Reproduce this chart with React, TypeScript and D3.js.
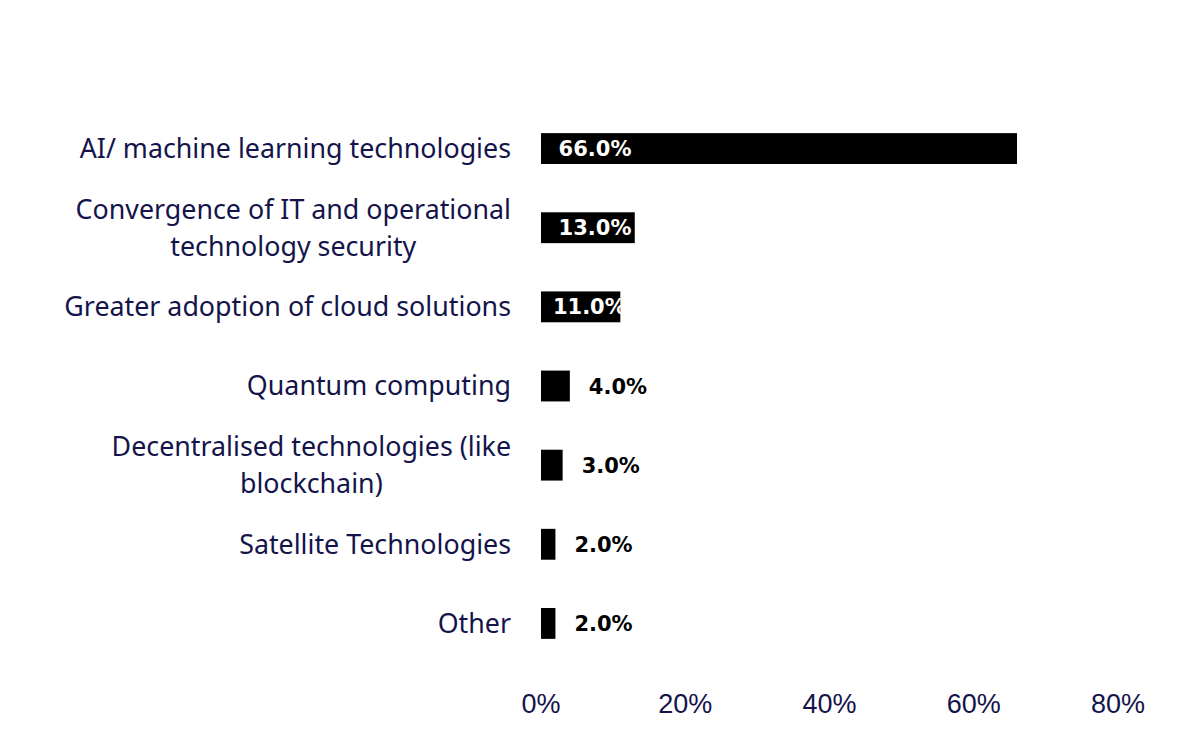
import * as d3 from "d3";

const WIDTH = 1200;
const HEIGHT = 754;

// survey answers, top to bottom
const categories = [
    "AI/ machine learning technologies",
    "Convergence of IT and operational technology security",
    "Greater adoption of cloud solutions",
    "Quantum computing",
    "Decentralised technologies (like blockchain)",
    "Satellite Technologies",
    "Other",
];
const categoryLines = [
    ["AI/ machine learning technologies"],
    ["Convergence of IT and operational", "technology security"],
    ["Greater adoption of cloud solutions"],
    ["Quantum computing"],
    ["Decentralised technologies (like", "blockchain)"],
    ["Satellite Technologies"],
    ["Other"],
];
const shares = [66, 13, 11, 4, 3, 2, 2];
const xTicks = [0, 20, 40, 60, 80];

const navy = "#14144b";
const LABEL_FONT = "'Noto Sans', sans-serif";
const LABEL_SIZE = 26.8;
const VALUE_FONT = "'DejaVu Sans', sans-serif";

let ctx: CanvasRenderingContext2D | null = null;
function textWidth(s: string) {
    if (!ctx) ctx = document.createElement("canvas").getContext("2d");
    if (!ctx) return s.length * LABEL_SIZE * 0.5;
    ctx.font = `${LABEL_SIZE}px 'Noto Sans'`;
    return ctx.measureText(s).width;
}

export default function App() {
    const x = d3.scaleLinear().domain([0, 80]).range([541, 1118]);
    const y = d3.scaleBand<string>().domain(categories).range([109, 663]).paddingInner(0.61).paddingOuter(0.305);
    const fmt = (v: number) => `${v.toFixed(1)}%`;
    const labelRight = 511;

    return (
        <svg width={WIDTH} height={HEIGHT} style={{ position: "absolute", left: 0, top: 0, background: "#fff" }}>
            {categories.map((c, i) => {
                const cy = (y(c) ?? 0) + y.bandwidth() / 2;
                const lines = categoryLines[i];
                const lh = 37;
                const top = cy - ((lines.length - 1) * lh) / 2;
                // multi-line labels are centred inside a right-aligned block
                const blockW = d3.max(lines, textWidth) ?? 0;
                const multi = lines.length > 1;
                return (
                    <g key={c}>
                        {lines.map((line, j) => (
                            <text
                                key={j}
                                x={multi ? labelRight - blockW / 2 : labelRight}
                                y={top + j * lh}
                                dy="0.35em"
                                textAnchor={multi ? "middle" : "end"}
                                fontFamily={LABEL_FONT}
                                fontSize={LABEL_SIZE}
                                fill={navy}
                            >
                                {line}
                            </text>
                        ))}
                        <rect x={x(0)} y={y(c)} width={x(shares[i]) - x(0)} height={y.bandwidth()} fill="#000" />
                        {shares[i] >= 10 ? (
                            <text
                                x={Math.min(x(0) + 54, x(shares[i]) - 31)}
                                y={cy}
                                dy="0.36em"
                                textAnchor="middle"
                                fontFamily={VALUE_FONT}
                                fontWeight="bold"
                                fontSize={21}
                                fill="#fff"
                            >
                                {fmt(shares[i])}
                            </text>
                        ) : (
                            <text
                                x={x(shares[i]) + 19}
                                y={cy}
                                dy="0.36em"
                                textAnchor="start"
                                fontFamily={VALUE_FONT}
                                fontWeight="bold"
                                fontSize={21}
                                fill="#000"
                            >
                                {fmt(shares[i])}
                            </text>
                        )}
                    </g>
                );
            })}
            {xTicks.map((t) => (
                <text
                    key={t}
                    x={x(t)}
                    y={703}
                    dy="0.36em"
                    textAnchor="middle"
                    fontFamily="'Liberation Sans', Arial, sans-serif"
                    fontSize={27}
                    fill={navy}
                >
                    {`${t}%`}
                </text>
            ))}
        </svg>
    );
}
